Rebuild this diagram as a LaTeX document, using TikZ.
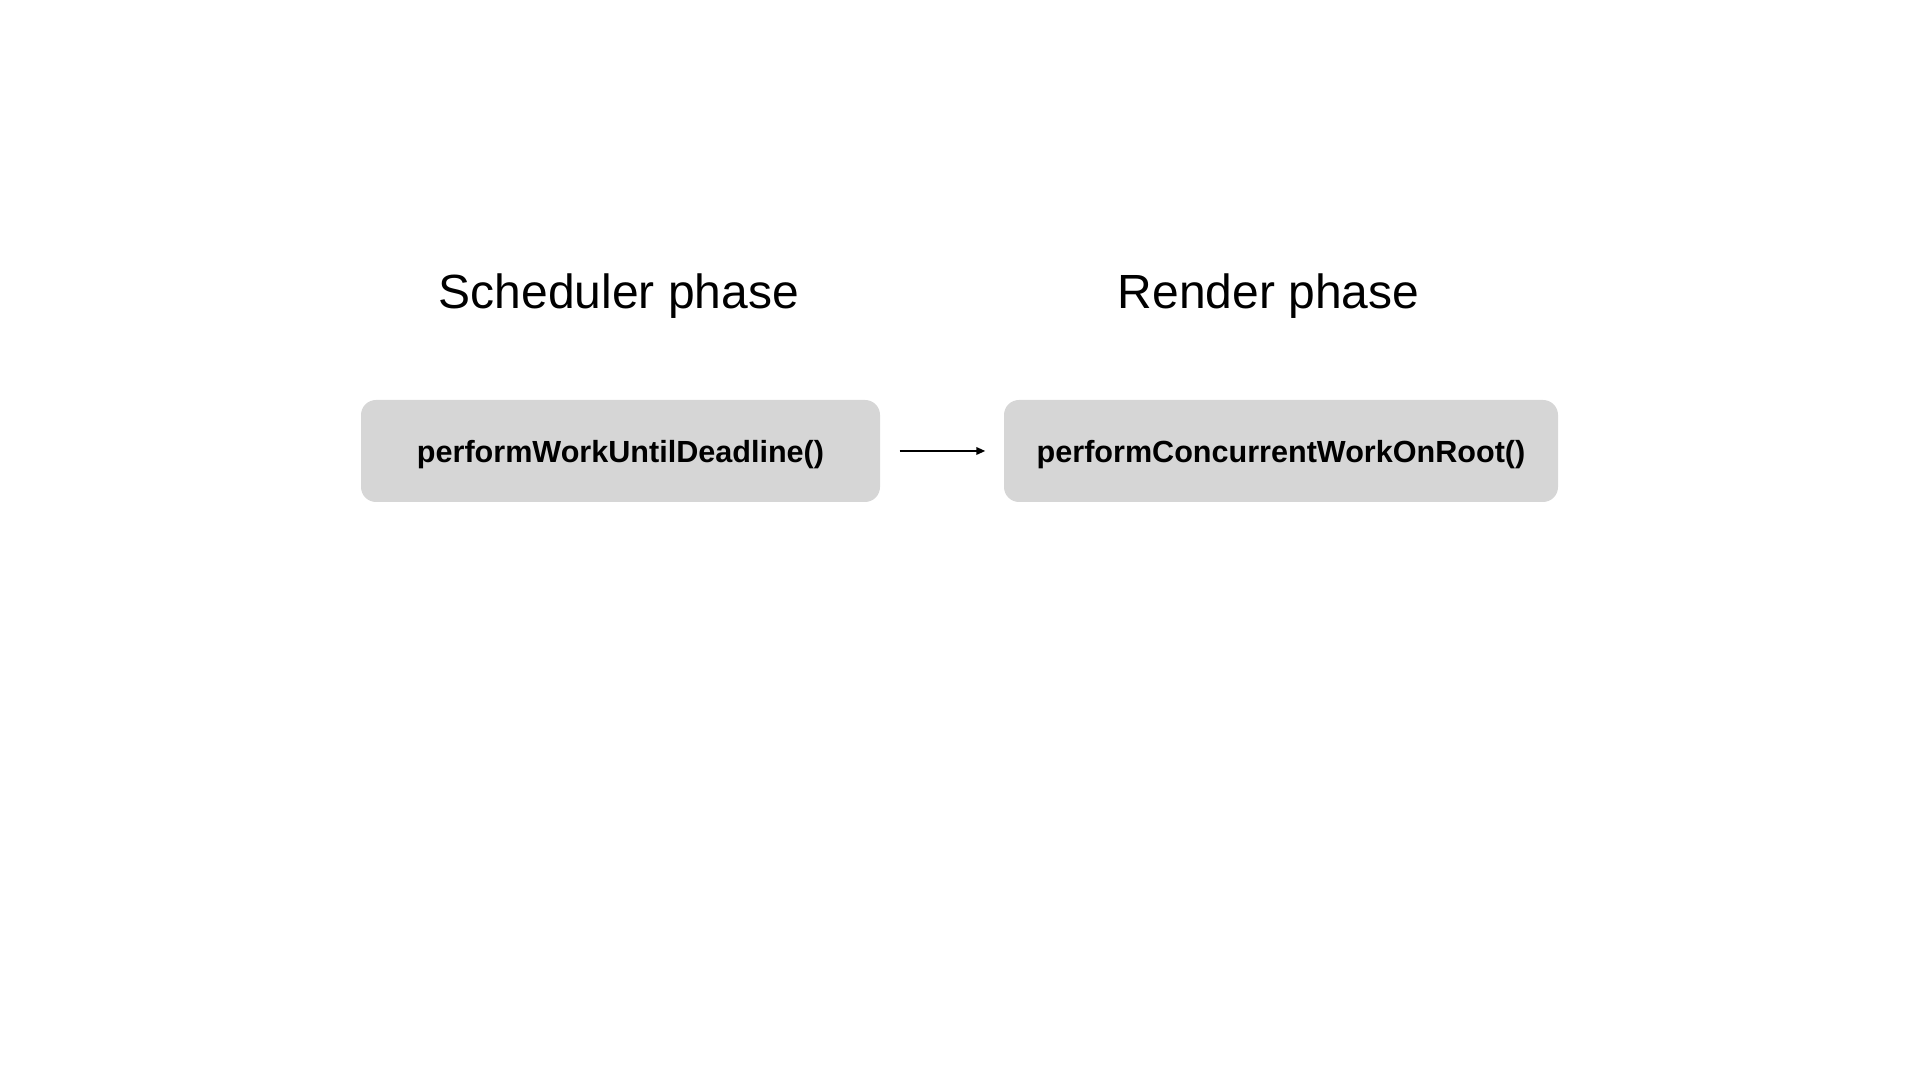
\documentclass[tikz,border=0pt]{standalone}
\usepackage{fontspec}
\setmainfont{Liberation Sans}
\usetikzlibrary{arrows.meta, positioning}
\definecolor{boxgray}{HTML}{D6D6D6}

\begin{document}
\begin{tikzpicture}[
    phase/.style={anchor=base, font=\fontsize{13.65}{16}\selectfont},
    fnbox/.style={fill=boxgray, rounded corners=1.5mm, inner sep=0pt, text depth=0pt,
        minimum height=1.02cm, font=\fontsize{8.7}{10}\selectfont\bfseries}
]
    \useasboundingbox (0,0) rectangle (19.2,10.8);
    
    \node[phase] (schedtitle) at (6.19, 7.71) {Scheduler phase};
    \node[phase] (rendertitle) at (12.685, 7.71) {Render phase};
    
    \node[fnbox, minimum width=5.19cm] (workloop) at (6.205, 6.29) {performWorkUntilDeadline()};
    \node[fnbox, minimum width=5.54cm] (concroot) at (12.81, 6.29) {performConcurrentWorkOnRoot()};
    
    \draw[line width=0.55pt, -{Triangle[length=0.9mm, width=0.75mm]}, shorten <=0.19cm, shorten >=0.18cm] 
        (workloop) -- (concroot);
\end{tikzpicture}
\end{document}
